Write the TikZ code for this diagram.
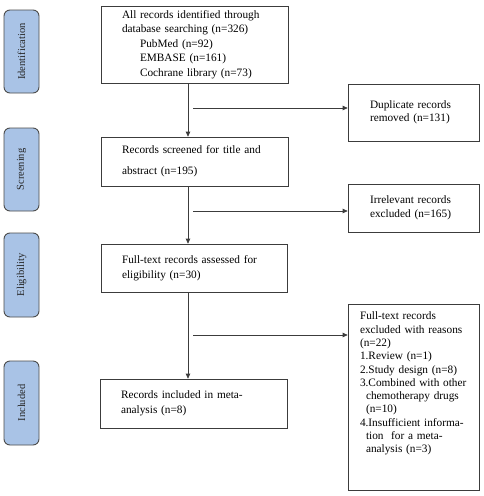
\documentclass[tikz,border=0pt]{standalone}
\usepackage{fontspec}
\setmainfont{Liberation Serif}
\usetikzlibrary{arrows.meta}
\definecolor{stageblue}{HTML}{A9C3E6}
\definecolor{linegray}{HTML}{3C3C3C}
\begin{document}
\begin{tikzpicture}[x=1pt,y=1pt,
  stage/.style={draw=black!70, fill=stageblue, rounded corners=6pt, line width=0.9pt,
    minimum width=35pt, inner sep=0pt, font=\fontsize{10.5}{12}\selectfont, text=black!85},
  mainbox/.style={draw=linegray, line width=0.7pt, inner xsep=21pt, inner ysep=0pt,
    align=left, font=\fontsize{11.3}{14.5}\selectfont},
  sidebox/.style={draw=linegray, line width=0.7pt, inner ysep=0pt,
    align=left, font=\fontsize{11.3}{13.5}\selectfont},
  flow/.style={draw=linegray, line width=0.7pt, -{Triangle[length=5pt,width=4.5pt]}}]
\useasboundingbox (0,0) rectangle (484,-496);
\fill[white] (0,0) rectangle (484,-496);

% stage labels
\node[stage, minimum height=83pt] (sid) at (21.5,-51.5) {\rotatebox{90}{Identification}};
\node[stage, minimum height=83pt] (ssc) at (21.5,-169.5) {\rotatebox{90}{Screening}};
\node[stage, minimum height=84pt] (sel) at (21.5,-275) {\rotatebox{90}{Eligibility}};
\node[stage, minimum height=84pt] (sin) at (21.5,-403) {\rotatebox{90}{Included}};

% main boxes
\node[mainbox, text width=145pt, minimum height=77pt] (b1) at (194.5,-44.5)
  {All records identified through\\database searching (n=326)\\
   \hspace*{18pt}PubMed (n=92)\\\hspace*{18pt}EMBASE (n=161)\\\hspace*{18pt}Cochrane library (n=73)};
\node[mainbox, text width=145pt, minimum height=49pt, font=\fontsize{11.3}{21}\selectfont] (b2) at (194.5,-161.5)
  {Records screened for title and\\abstract (n=195)};
\node[mainbox, text width=144pt, minimum height=48pt] (b3) at (194,-268)
  {Full-text records assessed for\\eligibility (n=30)};
\node[mainbox, text width=145pt, minimum height=49pt] (b4) at (193.5,-403.5)
  {Records included in meta-\\analysis (n=8)};

% side boxes
\node[sidebox, inner xsep=22pt, text width=87pt, minimum height=57pt] (s1) at (413.5,-112.5)
  {Duplicate records\\removed (n=131)};
\node[sidebox, inner xsep=22pt, text width=87pt, minimum height=48pt] (s2) at (413.5,-208)
  {Irrelevant records\\excluded (n=165)};
\node[sidebox, inner xsep=12pt, inner ysep=8pt, text width=107pt] (s3) at (413.5,-397)
  {\parbox[c][170pt][t]{107pt}{\fontsize{11.3}{13.3}\selectfont
   Full-text records\\excluded with reasons\\(n=22)\\1.Review (n=1)\\2.Study design (n=8)\\
   3.Combined with other\\\hspace*{6pt}chemotherapy drugs\\\hspace*{6pt}(n=10)\\
   4.Insufficient informa-\\\hspace*{6pt}tion \ for a meta-\\\hspace*{6pt}analysis (n=3)}};

% trunk
\coordinate (vx) at (188,0);
\draw[flow] (b1.south -| vx) -- (b2.north -| vx);
\draw[flow] (b2.south -| vx) -- (b3.north -| vx);
\draw[flow] (b3.south -| vx) -- (b4.north -| vx);

% branches
\coordinate (j1) at (193,-108);
\coordinate (j2) at (193,-211);
\coordinate (j3) at (193,-335);
\draw[flow] (j1) -- (s1.west |- j1);
\draw[flow] (j2) -- (s2.west |- j2);
\draw[flow] (j3) -- (s3.west |- j3);
\end{tikzpicture}
\end{document}
